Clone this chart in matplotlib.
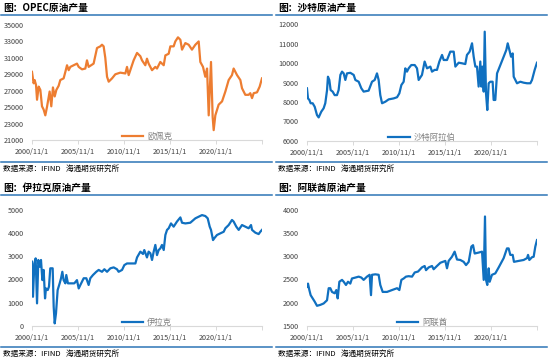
import matplotlib
matplotlib.use("Agg")
import matplotlib.pyplot as plt
from matplotlib.lines import Line2D

plt.rcParams['font.family'] = ['Noto Sans CJK SC', 'DejaVu Sans']

# x positions as decimal years (2000.83 = 2000/11/1)
opec_x = [2000.83, 2001.01, 2001.12, 2001.27, 2001.38, 2001.56, 2001.74, 2001.92, 2002.10, 2002.28,
          2002.46, 2002.75, 2002.93, 2003.11, 2003.30, 2003.48, 2003.73, 2003.91, 2004.27, 2004.46,
          2004.64, 2004.82, 2005.00, 2005.36, 2005.72, 2005.91, 2006.27, 2006.63, 2006.81, 2006.99,
          2007.53, 2007.90, 2008.26, 2008.44, 2008.62, 2008.80, 2008.99, 2009.17, 2009.53, 2009.89,
          2010.43, 2010.98, 2011.16, 2011.34, 2011.70, 2011.88, 2012.25, 2012.61, 2012.79, 2013.15,
          2013.33, 2013.51, 2013.88, 2014.24, 2014.42, 2014.78, 2015.15, 2015.33, 2015.69, 2015.87,
          2016.23, 2016.41, 2016.70, 2016.96, 2017.14, 2017.32, 2017.50, 2017.86, 2018.22, 2018.59,
          2018.95, 2019.13, 2019.42, 2019.67, 2019.86, 2020.04, 2020.29, 2020.47, 2020.58, 2020.76,
          2021.12, 2021.49, 2021.85, 2022.21, 2022.57, 2022.75, 2023.12, 2023.48, 2023.66, 2024.02,
          2024.38, 2024.56, 2024.75, 2024.93, 2025.29, 2025.58, 2025.83]
opec_y = [29300, 27900, 28300, 27700, 25900, 27500, 27100, 25100, 24700, 24000,
          25000, 26900, 25100, 27400, 26300, 27100, 27600, 28300, 28500, 29300,
          30100, 29500, 29900, 30100, 30300, 29900, 29600, 29700, 30700, 29900,
          30300, 32200, 32400, 32600, 32400, 31000, 28700, 28100, 28500, 29000,
          29200, 29100, 29900, 28900, 30100, 30700, 31600, 31200, 30700, 30100,
          30900, 30300, 29500, 29900, 29700, 30500, 30100, 31300, 31500, 32400,
          32400, 33000, 33500, 33200, 32000, 32400, 32800, 32600, 32000, 32600,
          33000, 30500, 29900, 28700, 29700, 24000, 30500, 23800, 22200, 24000,
          25300, 25700, 26900, 28300, 28900, 29700, 28900, 28300, 27300, 26500,
          26500, 26700, 26100, 26700, 26800, 27500, 28500]

saudi_x = [2000.83, 2000.94, 2001.09, 2001.23, 2001.45, 2001.67, 2001.92, 2002.10, 2002.39, 2002.64,
           2002.82, 2003.01, 2003.11, 2003.26, 2003.40, 2003.62, 2003.84, 2004.09, 2004.27, 2004.46,
           2004.64, 2004.82, 2005.00, 2005.18, 2005.54, 2005.91, 2006.09, 2006.45, 2006.74, 2006.99,
           2007.53, 2007.90, 2008.19, 2008.44, 2008.62, 2008.80, 2008.99, 2009.35, 2009.71, 2010.25,
           2010.62, 2010.87, 2011.09, 2011.34, 2011.52, 2011.70, 2011.88, 2012.17, 2012.54, 2012.79,
           2012.97, 2013.33, 2013.62, 2013.88, 2014.24, 2014.42, 2014.71, 2014.96, 2015.22, 2015.51,
           2015.69, 2016.05, 2016.41, 2016.78, 2016.96, 2017.32, 2017.68, 2018.04, 2018.22, 2018.51,
           2018.77, 2018.95, 2019.13, 2019.31, 2019.49, 2019.67, 2019.78, 2019.89, 2020.04, 2020.15,
           2020.29, 2020.43, 2020.58, 2020.76, 2021.01, 2021.12, 2021.30, 2021.49, 2021.85, 2022.21,
           2022.50, 2022.65, 2022.83, 2023.01, 2023.19, 2023.30, 2023.66, 2024.02, 2024.38, 2024.75,
           2025.11, 2025.29, 2025.58, 2025.83]
saudi_y = [8700, 8180, 8100, 7930, 7930, 7750, 7320, 7200, 7500, 7670,
           7930, 8600, 9300, 9130, 8610, 8530, 8350, 8350, 8610, 9390,
           9560, 9470, 9130, 9470, 9500, 9390, 9130, 9040, 8700, 8530,
           8580, 9040, 9130, 9470, 9130, 8350, 7930, 8010, 8130, 8180,
           8240, 8440, 8870, 9040, 9730, 9560, 9730, 9900, 9900, 9730,
           9130, 9390, 10080, 9730, 9820, 9560, 9650, 9650, 10080, 10420,
           10160, 10160, 10590, 10590, 9820, 10020, 9990, 9950, 10420, 10590,
           11020, 10330, 9820, 9820, 8790, 10080, 8790, 9820, 8530, 11620,
           8440, 7580, 8960, 9040, 9040, 8100, 8100, 9470, 9900, 10330,
           10680, 11020, 10680, 10330, 10500, 9300, 8960, 9040, 8990, 8960,
           8960, 9130, 9650, 10020]

iraq_x = [2000.83, 2000.94, 2001.09, 2001.23, 2001.38, 2001.52, 2001.67, 2001.81, 2001.96, 2002.10,
          2002.25, 2002.35, 2002.54, 2002.68, 2002.82, 2003.08, 2003.19, 2003.30, 2003.44, 2003.62,
          2003.84, 2003.99, 2004.13, 2004.27, 2004.46, 2004.56, 2004.74, 2005.07, 2005.43, 2005.72,
          2005.91, 2006.09, 2006.45, 2006.74, 2006.99, 2007.17, 2007.46, 2007.82, 2008.08, 2008.44,
          2008.70, 2008.99, 2009.35, 2009.71, 2010.07, 2010.25, 2010.62, 2010.87, 2011.16, 2011.70,
          2012.07, 2012.25, 2012.61, 2012.90, 2013.04, 2013.33, 2013.51, 2013.70, 2013.88, 2014.06,
          2014.24, 2014.42, 2014.60, 2014.78, 2014.96, 2015.15, 2015.33, 2015.51, 2015.69, 2015.94,
          2016.23, 2016.59, 2016.96, 2017.14, 2017.50, 2018.04, 2018.59, 2018.95, 2019.31, 2019.67,
          2019.93, 2020.15, 2020.29, 2020.51, 2020.65, 2020.94, 2021.30, 2021.67, 2021.85, 2022.21,
          2022.57, 2022.75, 2023.04, 2023.30, 2023.66, 2024.02, 2024.38, 2024.64, 2024.75, 2025.11,
          2025.47, 2025.65, 2025.83]
iraq_y = [2770, 1250, 2690, 2910, 965, 2840, 2550, 2840, 1970, 2410,
          1180, 1610, 1540, 1690, 2480, 2480, 820, 100, 530, 1540,
          1830, 2050, 2330, 1970, 1830, 2190, 1830, 1830, 1830, 1970,
          1610, 1760, 2050, 2050, 1760, 2050, 2190, 2330, 2410, 2330,
          2440, 2330, 2480, 2520, 2440, 2330, 2410, 2620, 2690, 2690,
          2690, 2950, 3200, 3100, 3270, 2950, 3200, 3130, 2840, 3200,
          3490, 3050, 3270, 3340, 3490, 3270, 3920, 4140, 4210, 4420,
          4280, 4500, 4680, 4450, 4420, 4450, 4640, 4710, 4780, 4740,
          4640, 4280, 4140, 3700, 3780, 3920, 3990, 4060, 4210, 4350,
          4570, 4500, 4280, 4140, 4350, 4280, 4210, 4350, 4140, 4020,
          3960, 4060, 4140]

uae_x = [2000.83, 2000.94, 2001.09, 2001.23, 2001.45, 2001.67, 2001.92, 2002.28, 2002.64, 2003.01,
         2003.19, 2003.37, 2003.55, 2003.84, 2004.02, 2004.17, 2004.35, 2004.64, 2004.82, 2005.07,
         2005.29, 2005.54, 2005.72, 2006.09, 2006.45, 2006.74, 2006.99, 2007.35, 2007.64, 2007.79,
         2007.90, 2008.26, 2008.62, 2008.80, 2009.06, 2009.53, 2010.07, 2010.62, 2010.87, 2011.09,
         2011.34, 2011.59, 2011.88, 2012.25, 2012.54, 2012.90, 2013.33, 2013.62, 2013.77, 2014.06,
         2014.42, 2014.60, 2014.96, 2015.33, 2015.87, 2016.05, 2016.23, 2016.59, 2016.88, 2017.14,
         2017.50, 2017.86, 2018.12, 2018.41, 2018.70, 2018.88, 2019.06, 2019.49, 2019.86, 2020.04,
         2020.18, 2020.29, 2020.43, 2020.58, 2020.69, 2020.94, 2021.30, 2021.67, 2022.21, 2022.57,
         2022.75, 2022.93, 2023.19, 2023.33, 2023.84, 2024.38, 2024.75, 2024.86, 2025.00, 2025.29,
         2025.47, 2025.65, 2025.83]
uae_y = [2340, 2410, 2270, 2160, 2090, 2020, 1930, 1950, 1980, 2050,
         2310, 2310, 2230, 2200, 2270, 2090, 2450, 2490, 2450, 2380,
         2450, 2410, 2520, 2540, 2560, 2540, 2490, 2560, 2600, 2160,
         2600, 2610, 2600, 2380, 2230, 2230, 2270, 2310, 2270, 2490,
         2520, 2560, 2570, 2560, 2650, 2670, 2760, 2790, 2700, 2760,
         2790, 2720, 2790, 2860, 2900, 2740, 2900, 2990, 3100, 2930,
         2920, 2880, 2810, 2880, 3210, 3240, 3060, 3080, 3100, 2490,
         3860, 2490, 2380, 2740, 2450, 2600, 2630, 2760, 2960, 3170,
         3170, 3030, 3030, 2880, 2900, 2920, 2960, 3030, 2920, 2980,
         2990, 3210, 3350]

tick_pos = [2000.833, 2005.833, 2010.833, 2015.833, 2020.833, 2025.833]
tick_labels = ['2000/11/1', '2005/11/1', '2010/11/1', '2015/11/1', '2020/11/1', '']

orange = '#ED7D31'
blue = '#1070C0'
rule_blue = '#2E75B6'

fig = plt.figure(figsize=(5.5, 3.6), dpi=100)
W, H = 550.0, 360.0


def px_axes(x0, y0, x1, y1):
    return fig.add_axes([x0 / W, 1 - y1 / H, (x1 - x0) / W, (y1 - y0) / H])


def panel(x0, top, title, xs, ys, color, label, ylim, yticks, ax_box, foot_y):
    # title, rules and source note
    fig.text((x0 + 3) / W, 1 - (top + 8) / H, title, fontsize=7, fontweight='bold',
             va='center', ha='left', color='black')
    fig.add_artist(Line2D([(x0 + 1) / W, (x0 + 272) / W], [1 - (top + 15) / H] * 2,
                          color=rule_blue, lw=1.1))
    fig.add_artist(Line2D([(x0 + 1) / W, (x0 + 272) / W], [1 - foot_y / H] * 2,
                          color=rule_blue, lw=1.1))
    fig.text((x0 + 3) / W, 1 - (foot_y + 6.5) / H, '数据来源：IFIND   海通期货研究所',
             fontsize=5.5, fontweight='medium', va='center', ha='left', color='black')

    ax = px_axes(*ax_box)
    ax.plot(xs, ys, color=color, lw=1.6, label=label)
    ax.set_xlim(tick_pos[0], tick_pos[-1])
    ax.set_ylim(*ylim)
    ax.set_yticks(yticks)
    ax.set_xticks(tick_pos)
    ax.set_xticklabels(tick_labels)
    for s in ['top', 'right', 'left']:
        ax.spines[s].set_visible(False)
    ax.spines['bottom'].set_color('#D9D9D9')
    ax.spines['bottom'].set_linewidth(0.8)
    ax.tick_params(axis='y', length=0, labelsize=5.2, labelcolor='#404040', pad=6)
    ax.tick_params(axis='x', length=3, width=0.7, color='#D9D9D9', labelsize=5.2,
                   labelcolor='#404040', pad=3, direction='out')
    ax.patch.set_alpha(0)
    ax.legend(loc='center', bbox_to_anchor=(0.5, 0.03), frameon=False, fontsize=6,
              labelcolor='#808080', handlelength=2.6, handletextpad=0.5,
              borderaxespad=0, borderpad=0)
    return ax


panel(0, 0, '图：OPEC原油产量', opec_x, opec_y, orange, '欧佩克',
      (21000, 35000), range(21000, 35001, 2000), (32, 25, 262, 140), 162)
panel(275, 0, '图：沙特原油产量', saudi_x, saudi_y, blue, '沙特阿拉伯',
      (6000, 12000), range(6000, 12001, 1000), (307, 24.3, 537, 140.7), 162)
panel(0, 180, '图：伊拉克原油产量', iraq_x, iraq_y, blue, '伊拉克',
      (0, 5000), range(0, 5001, 1000), (32, 210, 262, 325.7), 347)
panel(275, 180, '图：阿联酋原油产量', uae_x, uae_y, blue, '阿联酋',
      (1500, 4000), range(1500, 4001, 500), (307, 210, 537, 325.7), 347)

fig.savefig('out.png', dpi=100, facecolor='white')
